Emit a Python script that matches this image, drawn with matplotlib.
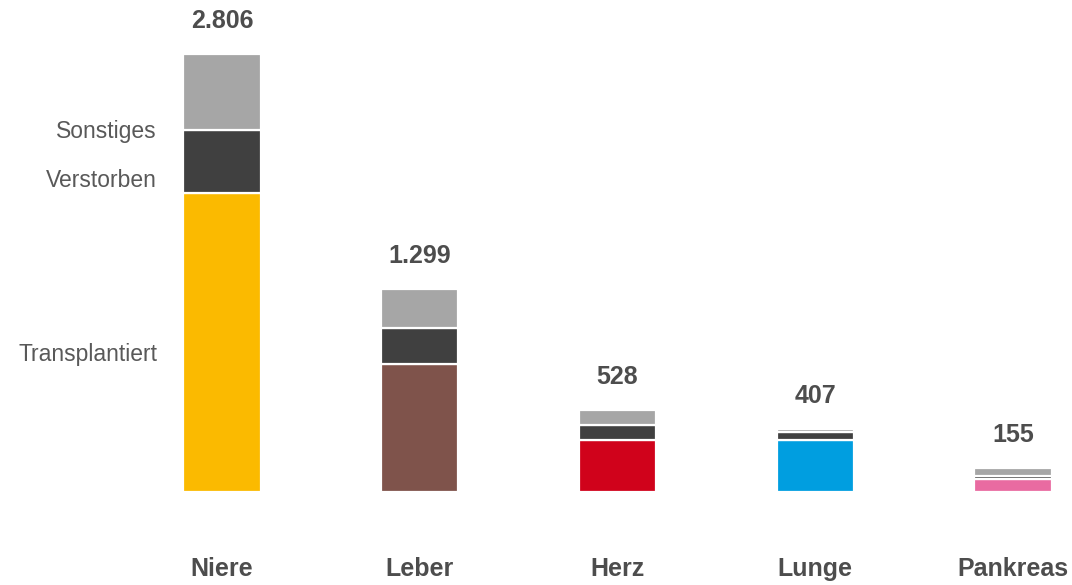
import matplotlib
matplotlib.use("Agg")
import matplotlib.pyplot as plt

categories = ["Niere", "Leber", "Herz", "Lunge", "Pankreas"]
totals = [2806, 1299, 528, 407, 155]
transplantiert = [1914, 823, 335, 338, 85]
verstorben = [407, 227, 93, 51, 20]
sonstiges = [485, 249, 100, 18, 50]
total_labels = ["2.806", "1.299", "528", "407", "155"]
series_names = ["Transplantiert", "Verstorben", "Sonstiges"]

trans_colors = ["#FBBA00", "#7F534B", "#D0021B", "#009EE0", "#E96BA1"]
dark = "#404040"
light = "#A6A6A6"
text_col = "#595959"
bold_col = "#4D4D4D"

plt.rcParams['font.family'] = ['Liberation Sans', 'DejaVu Sans']

fig = plt.figure(figsize=(10.72, 5.85), dpi=100)
ax = fig.add_axes([0, 0, 1, 1])

px_unit = 197.75
px_val = 6.402
ax.set_xlim(-222 / px_unit, (1072 - 222) / px_unit)
ax.set_ylim(-(585 - 492.3) * px_val, 492.3 * px_val)
ax.axis("off")

x = list(range(len(categories)))
w = 0.39
ew = 1.6
ax.bar(x, transplantiert, width=w, color=trans_colors, edgecolor="white", linewidth=ew)
b2 = [t for t in transplantiert]
ax.bar(x, verstorben, width=w, bottom=b2, color=dark, edgecolor="white", linewidth=ew)
b3 = [t + v for t, v in zip(transplantiert, verstorben)]
ax.bar(x, sonstiges, width=w, bottom=b3, color=light, edgecolor="white", linewidth=ew)

for xi, tot, lab in zip(x, totals, total_labels):
    ax.text(xi, tot + 33 * px_val, lab, ha="center", va="center",
            fontsize=18, fontweight="bold", color=bold_col)

for xi, cat in zip(x, categories):
    ax.text(xi, -(569 - 492.3) * px_val, cat, ha="center", va="center",
            fontsize=18, fontweight="bold", color=bold_col)

label_y = [885, 1993, 2313]
lx = -222 / px_unit + 157 / px_unit
for name, yy in zip(series_names, label_y):
    ax.text(lx, yy, name, ha="right", va="center", fontsize=16.5, color=text_col)

fig.savefig("out.png", dpi=100)
